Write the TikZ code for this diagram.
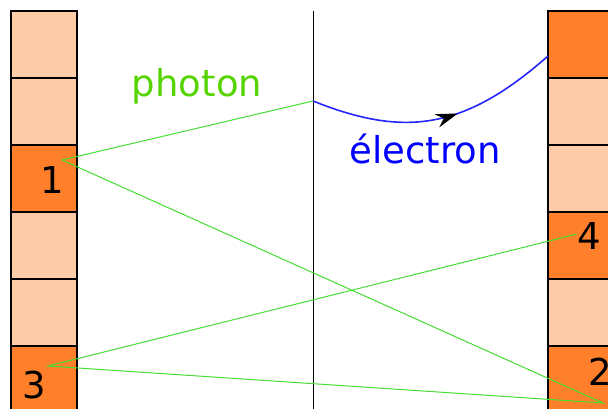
\documentclass[tikz,border=0pt]{standalone}
\usepackage{fontspec}
\setmainfont{DejaVu Sans}
\usepackage{xcolor}
\usetikzlibrary{arrows.meta,decorations.markings}
\definecolor{lightcell}{HTML}{FFCCAA}
\definecolor{darkcell}{HTML}{FF7F2A}
\definecolor{photongreen}{HTML}{55D400}
\definecolor{linegreen}{HTML}{44DD33}
\definecolor{elecblue}{HTML}{0000FF}

\begin{document}
\begin{tikzpicture}[x=1pt,y=-1pt,font=\fontsize{37}{44}\selectfont]
  \useasboundingbox (0,0) rectangle (608,409);
  \begin{scope}
  \clip (0,0) rectangle (608,409);
  % left column
  \fill[lightcell] (11,11) rectangle (77,78);
  \fill[lightcell] (11,78) rectangle (77,145);
  \fill[darkcell] (11,145) rectangle (77,212);
  \fill[lightcell] (11,212) rectangle (77,279);
  \fill[lightcell] (11,279) rectangle (77,346);
  \fill[darkcell] (11,346) rectangle (77,413);
  \draw[line width=1.6] (11,11) rectangle (77,78) (11,78) rectangle (77,145)
    (11,145) rectangle (77,212) (11,212) rectangle (77,279)
    (11,279) rectangle (77,346) (11,346) rectangle (77,413);
  % right column
  \fill[darkcell] (548,11) rectangle (614,78);
  \fill[lightcell] (548,78) rectangle (614,145);
  \fill[lightcell] (548,145) rectangle (614,212);
  \fill[darkcell] (548,212) rectangle (614,279);
  \fill[lightcell] (548,279) rectangle (614,346);
  \fill[darkcell] (548,346) rectangle (614,413);
  \draw[line width=1.6] (548,11) rectangle (614,78) (548,78) rectangle (614,145)
    (548,145) rectangle (614,212) (548,212) rectangle (614,279)
    (548,279) rectangle (614,346) (548,346) rectangle (614,413);
  % level numbers
  \node (n1) at (52,180) {1};
  \node (n3) at (34,385) {3};
  \node (n4) at (589,236) {4};
  \node (n2) at (600,372) {2};
  \end{scope}
  % middle line
  \coordinate (top) at (313,11);
  \coordinate (bot) at (313,409);
  \draw[line width=0.8] (top) -- (bot);
  % photon path
  \coordinate (hit) at (313,101);
  \coordinate (p1) at (62,160);
  \coordinate (p2) at (603,403);
  \coordinate (p3) at (48,366);
  \coordinate (p4) at (577,234);
  \draw[linegreen,line width=1] (hit) -- (p1) -- (p2) -- (p3) -- (p4);
  \node[photongreen] (photon) at (197,86) {photon};
  % electron
  \coordinate (out) at (548,56);
  \draw[elecblue!85!white,line width=1.6,
    decoration={markings,mark=at position 0.58 with {\arrow[black]{Stealth[length=22,width=14]}}},
    postaction={decorate}]
    (hit) .. controls (403,137) and (463,131) .. (out);
  \node[elecblue] (electron) at (425,149) {électron};
\end{tikzpicture}
\end{document}
